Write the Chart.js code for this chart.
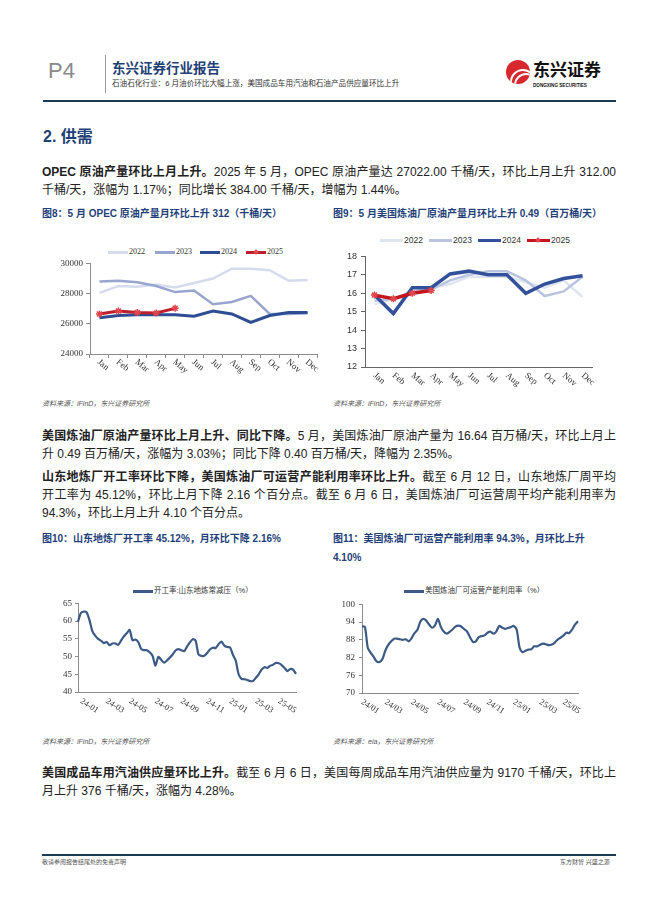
<!DOCTYPE html>
<html lang="zh-CN">
<head>
<meta charset="utf-8">
<title>东兴证券行业报告 P4</title>
<script src="https://cdn.jsdelivr.net/npm/chart.js@4.4.1/dist/chart.umd.min.js"></script>
<style>
  html, body { margin: 0; padding: 0; background: #fff; }
  body { width: 662px; height: 898px; position: relative; overflow: hidden;
         font-family: 'Liberation Sans', 'Noto Sans CJK SC', sans-serif; color: #222; }
  .abs { position: absolute; white-space: nowrap; }
  .line { position: absolute; left: 42px; width: 574px; font-size: 12px; line-height: 18px; }
  .full { text-align: justify; text-align-last: justify; }
  .cap { position: absolute; font-size: 10px; line-height: 14px; font-weight: bold; color: #1f3f7a; white-space: nowrap; }
  .src { position: absolute; font-size: 7px; line-height: 10px; font-style: italic; color: #555; white-space: nowrap; }
  .chart { position: absolute; }
  .lg { position: absolute; white-space: nowrap; font-size: 8px; line-height: 10px; color: #333; }
  .lg i { position: absolute; display: block; }
</style>
</head>
<body>

<!-- header -->
<div class="abs" style="left:48px;top:58px;font-size:22px;line-height:26px;color:#8a8a8a;">P4</div>
<div class="abs" style="left:105px;top:55px;width:1px;height:38px;background:#999;"></div>
<div class="abs" style="left:112px;top:60px;font-size:13.5px;line-height:17px;font-weight:bold;color:#1f3f77;">东兴证券行业报告</div>
<div class="abs" style="left:112px;top:79px;font-size:7.6px;line-height:9px;color:#333;">石油石化行业：6 月油价环比大幅上涨，美国成品车用汽油和石油产品供应量环比上升</div>
<div class="abs" style="left:506px;top:60px;width:24px;height:24px;border-radius:50%;background:#d7282f;overflow:hidden;">
  <div class="abs" style="left:4px;top:9px;width:22px;height:22px;border-radius:50%;border:2px solid #fff;"></div>
  <div class="abs" style="left:8px;top:13px;width:20px;height:20px;border-radius:50%;border:2px solid #fff;"></div>
</div>
<div class="abs" style="left:533px;top:61px;font-size:17px;line-height:20px;font-weight:bold;color:#111;">东兴证券</div>
<div class="abs" style="left:533px;top:83px;font-size:4.6px;line-height:6px;font-weight:bold;color:#111;">DONGXING SECURITIES</div>
<div class="abs" style="left:43px;top:100px;width:573px;height:2px;background:#1b3a56;"></div>

<div class="abs" style="left:43px;top:127px;font-size:16px;line-height:20px;font-weight:bold;color:#1f3f77;">2. 供需</div>

<!-- paragraph 1 -->
<div class="line full" style="top:163px;"><b>OPEC 原油产量环比上月上升。</b>2025 年 5 月，OPEC 原油产量达 27022.00 千桶/天，环比上月上升 312.00</div>
<div class="line" style="top:181px;">千桶/天，涨幅为 1.17%；同比增长 384.00 千桶/天，增幅为 1.44%。</div>

<div class="cap" style="left:42px;top:207px;">图8：5 月 OPEC 原油产量月环比上升 312（千桶/天）</div>
<div class="cap" style="left:333px;top:207px;">图9：5 月美国炼油厂原油产量月环比上升 0.49（百万桶/天）</div>

<!-- chart 1 legend -->
<div class="lg" style="left:108px;top:247px;font-family:'Liberation Serif',serif;"><i style="left:0;top:4px;width:20px;height:2.5px;background:#d6dced;"></i><span style="margin-left:21px;">2022</span></div>
<div class="lg" style="left:155px;top:247px;font-family:'Liberation Serif',serif;"><i style="left:0;top:4px;width:20px;height:2.5px;background:#98a6cf;"></i><span style="margin-left:21px;">2023</span></div>
<div class="lg" style="left:200px;top:247px;font-family:'Liberation Serif',serif;"><i style="left:0;top:3.5px;width:20px;height:3.5px;background:#2e4c94;"></i><span style="margin-left:21px;">2024</span></div>
<div class="lg" style="left:246px;top:247px;font-family:'Liberation Serif',serif;"><i style="left:0;top:3.5px;width:20px;height:3.5px;background:#bf1e2e;"></i><i style="left:8px;top:2.5px;width:4px;height:4px;background:#e0474c;transform:rotate(45deg);"></i><span style="margin-left:21px;">2025</span></div>
<canvas id="opecChart" class="chart" width="285" height="135" style="left:40px;top:255px;"></canvas>

<!-- chart 2 legend -->
<div class="lg" style="left:380px;top:235px;font-size:8.5px;"><i style="left:0;top:4px;width:23px;height:2.5px;background:#dfe4f1;"></i><span style="margin-left:24px;">2022</span></div>
<div class="lg" style="left:429px;top:235px;font-size:8.5px;"><i style="left:0;top:4px;width:23px;height:2.5px;background:#b9c4e0;"></i><span style="margin-left:24px;">2023</span></div>
<div class="lg" style="left:478px;top:235px;font-size:8.5px;"><i style="left:0;top:3.5px;width:23px;height:3.5px;background:#33509b;"></i><span style="margin-left:24px;">2024</span></div>
<div class="lg" style="left:527px;top:235px;font-size:8.5px;"><i style="left:0;top:3.5px;width:23px;height:3.5px;background:#c3161f;"></i><i style="left:9px;top:2.5px;width:4px;height:4px;background:#e0474c;transform:rotate(45deg);"></i><span style="margin-left:24px;">2025</span></div>
<canvas id="usCrudeChart" class="chart" width="265" height="145" style="left:335px;top:247px;"></canvas>

<div class="src" style="left:42px;top:399px;">资料来源：iFinD，东兴证券研究所</div>
<div class="src" style="left:333px;top:399px;">资料来源：iFinD，东兴证券研究所</div>

<!-- paragraph 2 -->
<div class="line full" style="top:427px;"><b>美国炼油厂原油产量环比上月上升、同比下降。</b>5 月，美国炼油厂原油产量为 16.64 百万桶/天，环比上月上</div>
<div class="line" style="top:445px;">升 0.49 百万桶/天，涨幅为 3.03%；同比下降 0.40 百万桶/天，降幅为 2.35%。</div>

<!-- paragraph 3 -->
<div class="line full" style="top:468px;"><b>山东地炼厂开工率环比下降，美国炼油厂可运营产能利用率环比上升。</b>截至 6 月 12 日，山东地炼厂周平均</div>
<div class="line full" style="top:486px;">开工率为 45.12%，环比上月下降 2.16 个百分点。截至 6 月 6 日，美国炼油厂可运营周平均产能利用率为</div>
<div class="line" style="top:504px;">94.3%，环比上月上升 4.10 个百分点。</div>

<div class="cap" style="left:42px;top:532px;">图10：山东地炼厂开工率 45.12%，月环比下降 2.16%</div>
<div class="cap" style="left:333px;top:532px;">图11：美国炼油厂可运营产能利用率 94.3%，月环比上升</div>
<div class="cap" style="left:333px;top:551px;">4.10%</div>

<!-- chart 3 legend -->
<div class="lg" style="left:133px;top:586px;font-size:7.5px;"><i style="left:0;top:4px;width:20px;height:2.5px;background:#3b5a85;"></i><span style="margin-left:21px;">开工率:山东地炼常减压（%）</span></div>
<canvas id="shandongChart" class="chart" width="255" height="130" style="left:45px;top:595px;"></canvas>

<!-- chart 4 legend -->
<div class="lg" style="left:404px;top:586px;font-size:7.5px;"><i style="left:0;top:4px;width:20px;height:2.5px;background:#3b5a85;"></i><span style="margin-left:21px;">美国炼油厂可运营产能利用率（%）</span></div>
<canvas id="usUtilChart" class="chart" width="250" height="130" style="left:335px;top:595px;"></canvas>

<div class="src" style="left:42px;top:737px;">资料来源：iFinD，东兴证券研究所</div>
<div class="src" style="left:333px;top:737px;">资料来源：eia，东兴证券研究所</div>

<!-- paragraph 4 -->
<div class="line full" style="top:764px;"><b>美国成品车用汽油供应量环比上升。</b>截至 6 月 6 日，美国每周成品车用汽油供应量为 9170 千桶/天，环比上</div>
<div class="line" style="top:782px;">月上升 376 千桶/天，涨幅为 4.28%。</div>

<!-- footer -->
<div class="abs" style="left:42px;top:854px;width:574px;height:1.5px;background:#1b3a56;"></div>
<div class="abs" style="left:42px;top:858px;font-size:6px;line-height:8px;color:#555;">敬请参阅报告结尾处的免责声明</div>
<div class="abs" style="left:560px;top:858px;font-size:6px;line-height:8px;color:#555;">东方财智 兴盛之源</div>

<script>
// Fig 8: OPEC crude output (thousand barrels/day)
const months = ['Jan', 'Feb', 'Mar', 'Apr', 'May', 'Jun', 'Jul', 'Aug', 'Sep', 'Oct', 'Nov', 'Dec'];
const opec2022 = [28050, 28500, 28450, 28600, 28400, 28700, 29000, 29650, 29650, 29550, 28850, 28900];
const opec2023 = [28800, 28850, 28750, 28500, 28100, 28200, 27300, 27450, 27850, 26650, 26650, 26700];
const opec2024 = [26400, 26550, 26600, 26600, 26600, 26500, 26850, 26650, 26100, 26550, 26750, 26750];
const opec2025 = [26650, 26850, 26750, 26710, 27022];

// Fig 9: US refinery crude input (million barrels/day)
const usCrude2022 = [15.4, 15.7, 16.0, 16.3, 16.5, 16.9, 16.9, 16.9, 16.6, 16.3, 16.7, 15.8];
const usCrude2023 = [15.6, 15.7, 16.1, 16.2, 16.7, 17.0, 17.2, 17.2, 16.7, 15.85, 16.1, 16.9];
const usCrude2024 = [15.9, 14.9, 16.3, 16.3, 17.05, 17.2, 17.0, 17.0, 16.0, 16.5, 16.8, 16.95];
const usCrude2025 = [15.9, 15.7, 16.0, 16.15];

// Fig 10: Shandong independent refinery run rate, weekly (%)
const shandongEnd = '2025-06-12';
const shandongRate = [
  59.8, 62.3, 62.7, 62.5, 60.3, 57.2, 55.9, 55.0, 54.5, 53.8, 54.1, 53.2, 53.7, 53.7, 53.3, 54.5,
  55.7, 56.6, 57.5, 54.6, 54.8, 54.1, 52.2, 51.8, 51.8, 51.2, 50.2, 47.4, 49.9, 49.1, 48.3, 48.9,
  49.7, 50.6, 51.7, 52.1, 51.8, 51.5, 52.8, 54.0, 54.9, 54.5, 50.6, 50.2, 50.2, 51.0, 52.0, 52.5,
  52.4, 53.5, 54.2, 53.1, 52.7, 52.6, 50.5, 48.8, 45.0, 43.7, 43.6, 43.4, 43.1, 43.1, 44.0, 45.0,
  46.3, 47.0, 46.8, 47.4, 47.7, 48.2, 48.1, 47.6, 46.8, 45.9, 46.5, 46.3, 45.12
];
const shandongTicks = ['24-01', '24-03', '24-05', '24-07', '24-09', '24-11', '25-01', '25-03', '25-05'];

// Fig 11: US refinery operable capacity utilization, weekly (%)
const usUtilEnd = '2025-06-06';
const usUtil = [
  92.6, 92.4, 85.2, 83.6, 82.2, 80.7, 80.5, 81.5, 84.4, 86.3, 87.5, 88.4, 88.4, 88.2, 88.0, 88.2,
  87.5, 88.6, 90.3, 91.4, 94.2, 95.1, 94.5, 93.2, 92.1, 92.9, 95.1, 92.4, 90.8, 90.1, 90.7, 91.5,
  92.5, 92.8, 92.5, 91.6, 90.8, 88.9, 87.3, 87.5, 88.9, 89.3, 89.5, 90.4, 90.8, 90.1, 90.8, 92.7,
  92.1, 91.7, 92.0, 92.3, 92.7, 91.4, 85.3, 83.8, 84.3, 84.7, 84.8, 85.8, 85.8, 86.3, 86.7, 86.5,
  86.2, 86.4, 87.0, 88.1, 88.7, 89.4, 90.4, 90.3, 91.5, 93.2, 94.3
];
const usUtilTicks = ['24/01', '24/03', '24/05', '24/07', '24/09', '24/11', '25/01', '25/03', '25/05'];

// weekly date labels counted back from the last observation
function weeklyDates(endDate, count) {
  const end = new Date(endDate + 'T00:00:00Z');
  return Array.from({ length: count }, (_, i) => {
    const d = new Date(end.getTime() - (count - 1 - i) * 7 * 86400000);
    return d.toISOString().slice(0, 7);
  });
}

// index of the first week falling in each labelled month
function tickItems(dates, ticks) {
  return ticks.map((t) => {
    const key = '20' + t.slice(0, 2) + '-' + t.slice(3, 5);
    return { index: dates.indexOf(key), text: t };
  }).filter((it) => it.index >= 0);
}

// x labels slanting down to the right, placed through the x scale
const slantLabels = {
  id: 'slantLabels',
  afterDraw(chart, args, opts) {
    const scale = chart.scales.x;
    const ctx = chart.ctx;
    ctx.save();
    ctx.font = opts.font;
    ctx.fillStyle = opts.color;
    ctx.textAlign = 'left';
    ctx.textBaseline = 'middle';
    opts.items.forEach((item) => {
      const x = scale.getPixelForValue(item.index);
      ctx.save();
      ctx.translate(x + opts.dx, scale.top + opts.dy);
      ctx.rotate(opts.angle * Math.PI / 180);
      ctx.fillText(item.text, 0, 0);
      ctx.restore();
    });
    ctx.restore();
  },
};

function lineSet(data, color, width, order) {
  return { data, borderColor: color, backgroundColor: color, borderWidth: width, pointRadius: 0, tension: 0, order };
}

function baseOptions(o) {
  return {
    responsive: false,
    devicePixelRatio: 1,
    animation: false,
    layout: { padding: o.padding },
    plugins: {
      legend: { display: false },
      tooltip: { enabled: false },
      slantLabels: o.slant,
    },
    scales: {
      x: {
        type: 'category',
        offset: o.xOffset,
        ticks: { display: false },
        grid: { display: o.xTicks, drawOnChartArea: false, drawTicks: true, tickLength: 4, offset: true, color: o.axisColor },
        border: { display: true, color: o.axisColor, width: 1 },
        afterFit(scale) { scale.height = o.xHeight; },
      },
      y: {
        min: o.yMin, max: o.yMax,
        ticks: { stepSize: o.yStep, font: o.yFont, color: '#333', padding: o.yPad, callback: (v) => String(v) },
        grid: { drawOnChartArea: false, drawTicks: true, tickLength: o.yTick, color: o.axisColor },
        border: { display: true, color: o.axisColor, width: 1 },
        afterFit(scale) { scale.width = o.yWidth; },
      },
    },
  };
}

const serif = "'Liberation Serif', 'Times New Roman', serif";
const sans = "'Liberation Sans', Arial, sans-serif";

// Fig 8
new Chart(document.getElementById('opecChart'), {
  type: 'line',
  data: {
    labels: months,
    datasets: [
      lineSet(opec2022, '#d6dced', 2.5, 3),
      lineSet(opec2023, '#98a6cf', 2.5, 2),
      lineSet(opec2024, '#2e4c94', 3, 1),
      Object.assign(lineSet(opec2025, '#bf1e2e', 3, 0), {
        pointRadius: 3.5, pointStyle: 'star', pointBorderColor: '#e0474c', pointBorderWidth: 1.5,
      }),
    ],
  },
  options: baseOptions({
    padding: { top: 8, right: 8, bottom: 0, left: 0 },
    xOffset: true, xTicks: true, xHeight: 36, axisColor: '#8c8c8c',
    yMin: 24000, yMax: 30000, yStep: 2000, yWidth: 50, yTick: 4, yPad: 3,
    yFont: { family: serif, size: 9 },
    slant: {
      font: '9px ' + serif, color: '#333', dx: -1, dy: 7, angle: 40,
      items: months.map((m, i) => ({ index: i, text: m })),
    },
  }),
  plugins: [slantLabels],
});

// Fig 9
new Chart(document.getElementById('usCrudeChart'), {
  type: 'line',
  data: {
    labels: months,
    datasets: [
      lineSet(usCrude2022, '#dfe4f1', 2.5, 3),
      lineSet(usCrude2023, '#b9c4e0', 2.5, 2),
      lineSet(usCrude2024, '#33509b', 3.5, 1),
      Object.assign(lineSet(usCrude2025, '#c3161f', 3.5, 0), {
        pointRadius: 3.5, pointStyle: 'star', pointBorderColor: '#e0474c', pointBorderWidth: 1.5,
      }),
    ],
  },
  options: baseOptions({
    padding: { top: 8, right: 8, bottom: 0, left: 0 },
    xOffset: true, xTicks: false, xHeight: 25, axisColor: '#666',
    yMin: 12, yMax: 18, yStep: 1, yWidth: 30, yTick: 4, yPad: 4,
    yFont: { family: sans, size: 9 },
    slant: {
      font: '9px ' + serif, color: '#333', dx: 0, dy: 7.5, angle: 40,
      items: months.map((m, i) => ({ index: i, text: m })),
    },
  }),
  plugins: [slantLabels],
});

// Fig 10
const shandongDates = weeklyDates(shandongEnd, shandongRate.length);
new Chart(document.getElementById('shandongChart'), {
  type: 'line',
  data: {
    labels: shandongDates,
    datasets: [Object.assign(lineSet(shandongRate, '#3b5a85', 2.2, 0), { tension: 0.25 })],
  },
  options: baseOptions({
    padding: { top: 8, right: 4, bottom: 0, left: 0 },
    xOffset: false, xTicks: false, xHeight: 33, axisColor: '#8c8c8c',
    yMin: 40, yMax: 65, yStep: 5, yWidth: 33, yTick: 3, yPad: 3,
    yFont: { family: serif, size: 9 },
    slant: {
      font: '8.5px ' + serif, color: '#333', dx: 0, dy: 8.5, angle: 33,
      items: tickItems(shandongDates, shandongTicks),
    },
  }),
  plugins: [slantLabels],
});

// Fig 11
const usUtilDates = weeklyDates(usUtilEnd, usUtil.length);
new Chart(document.getElementById('usUtilChart'), {
  type: 'line',
  data: {
    labels: usUtilDates,
    datasets: [Object.assign(lineSet(usUtil, '#3b5a85', 2.2, 0), { tension: 0.25 })],
  },
  options: baseOptions({
    padding: { top: 8, right: 7, bottom: 0, left: 0 },
    xOffset: false, xTicks: false, xHeight: 32, axisColor: '#8c8c8c',
    yMin: 70, yMax: 100, yStep: 6, yWidth: 27, yTick: 3, yPad: 4,
    yFont: { family: serif, size: 9 },
    slant: {
      font: '8.5px ' + serif, color: '#333', dx: 0, dy: 8.5, angle: 33,
      items: tickItems(usUtilDates, usUtilTicks),
    },
  }),
  plugins: [slantLabels],
});
</script>
</body>
</html>
